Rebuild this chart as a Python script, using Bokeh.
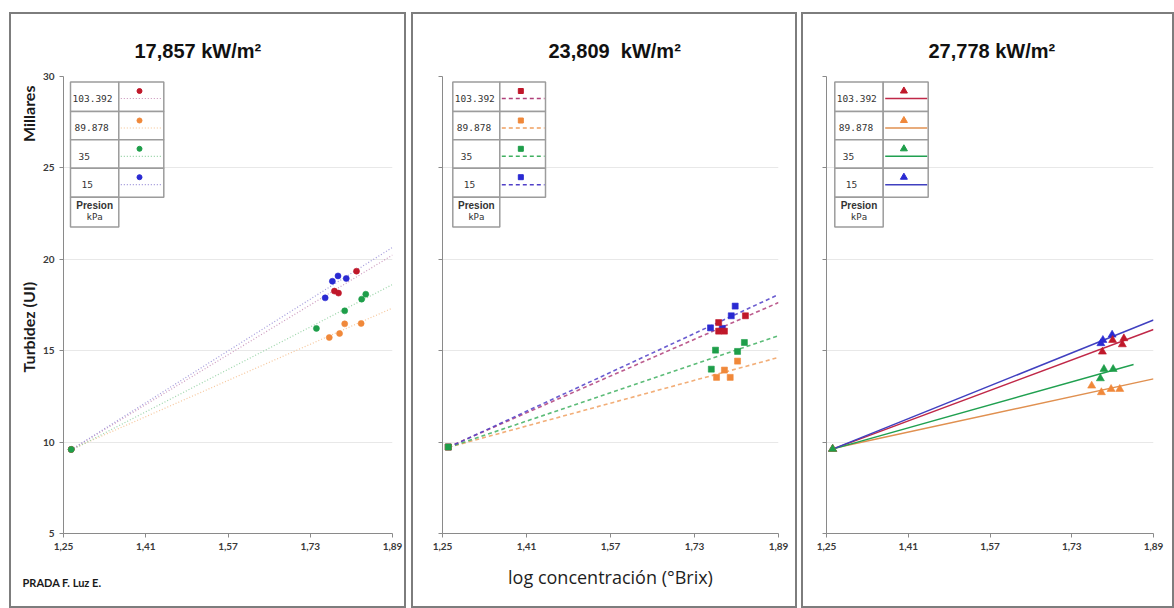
import numpy as np
from bokeh.plotting import figure
from bokeh.models import Label, FixedTicker, Spacer, CustomJSTickFormatter, Title
from bokeh.layouts import row, column
from bokeh.embed import file_html
from bokeh.resources import INLINE

# ---------------- data ----------------
presiones = ["103.392", "89.878", "35", "15"]
flujos = ["17,857 kW/m\u00b2", "23,809\u00a0 kW/m\u00b2", "27,778 kW/m\u00b2"]
x_ticks = [1.25, 1.41, 1.57, 1.73, 1.89]
y_ticks = [5, 10, 15, 20, 25, 30]
y_title = "Turbidez (UI)"
y_units_title = "Millares"
autor = "PRADA F. Luz E."
x_title = "log concentración (°Brix)"

# panel 1 : 17,857 kW/m2  (log concentracion, turbidez en millares)
x1_103 = [1.265, 1.777, 1.785, 1.820]
y1_103 = [9.6, 18.26, 18.15, 19.35]
x1_89 = [1.265, 1.767, 1.787, 1.797, 1.829]
y1_89 = [9.6, 15.72, 15.94, 16.47, 16.49]
x1_35 = [1.265, 1.742, 1.797, 1.830, 1.838]
y1_35 = [9.6, 16.22, 17.18, 17.82, 18.09]
x1_15 = [1.265, 1.759, 1.773, 1.784, 1.800]
y1_15 = [9.6, 17.89, 18.80, 19.09, 18.95]

# panel 2 : 23,809 kW/m2
x2_103 = [1.261, 1.776, 1.776, 1.787, 1.827]
y2_103 = [9.73, 16.54, 16.07, 16.07, 16.91]
x2_89 = [1.261, 1.772, 1.787, 1.798, 1.812]
y2_89 = [9.73, 13.54, 13.94, 13.54, 14.43]
x2_35 = [1.261, 1.762, 1.770, 1.812, 1.825]
y2_35 = [9.73, 13.99, 15.03, 14.96, 15.45]
x2_15 = [1.261, 1.7605, 1.783, 1.800, 1.8075]
y2_15 = [9.73, 16.25, 16.22, 16.91, 17.44]

# panel 3 : 27,778 kW/m2
x3_103 = [1.262, 1.790, 1.810, 1.829, 1.832]
y3_103 = [9.62, 14.94, 15.58, 15.34, 15.67]
x3_89 = [1.262, 1.769, 1.788, 1.807, 1.824]
y3_89 = [9.62, 13.08, 12.72, 12.90, 12.90]
x3_35 = [1.262, 1.786, 1.793, 1.811]
y3_35 = [9.62, 13.48, 13.99, 13.99]
x3_15 = [1.262, 1.787, 1.791, 1.809]
y3_15 = [9.62, 15.40, 15.58, 15.87]

# end of each trendline (order: 103.392, 89.878, 35, 15)
trend_end_1 = [1.89, 1.89, 1.89, 1.89]
trend_end_2 = [1.89, 1.89, 1.89, 1.89]
trend_end_3 = [1.89, 1.89, 1.851, 1.89]

# ---------------- styles ----------------
colors = ["#c0182a", "#f0883a", "#1e9e4a", "#2a2ad2"]
line_colors = [
    ["#c890b8", "#f5c090", "#90d0a0", "#9a90d8"],
    ["#b0407a", "#f0a060", "#40b060", "#5040c8"],
    ["#c02848", "#e09050", "#20a050", "#4040c0"],
]
markers = ["circle", "square", "triangle"]
msizes = [6, 6, 8]
dashes = ["1 2", "4 3", "solid"]
lwidths = [1.2, 1.6, 1.5]
lalpha = [0.9, 0.85, 1.0]

panels = [
    ([(x1_103, y1_103), (x1_89, y1_89), (x1_35, y1_35), (x1_15, y1_15)], trend_end_1),
    ([(x2_103, y2_103), (x2_89, y2_89), (x2_35, y2_35), (x2_15, y2_15)], trend_end_2),
    ([(x3_103, y3_103), (x3_89, y3_89), (x3_35, y3_35), (x3_15, y3_15)], trend_end_3),
]

# layout geometry (page pixels)
TOP = 12
FR_TOP, FR_BOT = 76, 533
frames_x = [(63, 392), (442, 778), (826, 1153)]
fig_left = [9, 411, 801]
fig_w = [397, 386, 373]
FIG_H = 596
BW = 2  # css border width (drawn inside the host, canvas shifted by BW)
title_left = [134, 548, 928]
leg_cols = [(70, 118.3, 163.3), (452.3, 499.3, 545), (834.3, 882.7, 927.7)]
rows_y = [81.5, 111, 139.3, 167.7, 196.7, 226.5]
lab_dx = [2, 4, 8, 11]
AXC = "#8a8a8a"
TXT = "#3a3a3a"


def yd(py):
    return 5 + (FR_BOT - py) * 25.0 / (FR_BOT - FR_TOP)


def xd(i, px):
    L, R = frames_x[i]
    return 1.25 + (px - L) * 0.64 / (R - L)


figs = []
for i, (series, ends) in enumerate(panels):
    L, R = frames_x[i]
    left = L - fig_left[i] - BW
    right = fig_left[i] + fig_w[i] + BW - R
    p = figure(width=fig_w[i], height=FIG_H,
               x_range=(1.25, 1.89), y_range=(5, 30),
               output_backend="svg", toolbar_location=None,
               min_border_left=left, min_border_right=right,
               min_border_top=FR_TOP - TOP - BW, min_border_bottom=TOP + FIG_H + BW - FR_BOT,
               background_fill_color="white", border_fill_color="white",
               styles={"border": "%dpx solid #7d7d7d" % BW})
    p.outline_line_color = None
    p.xgrid.visible = False
    p.ygrid.ticker = FixedTicker(ticks=y_ticks)
    p.ygrid.grid_line_color = "#e8e8e8"

    p.xaxis.ticker = FixedTicker(ticks=x_ticks)
    p.xaxis.formatter = CustomJSTickFormatter(code="return tick.toFixed(2).replace('.', ',');")
    p.yaxis.ticker = FixedTicker(ticks=y_ticks)
    if i > 0:
        p.yaxis.formatter = CustomJSTickFormatter(code="return '';")
    for ax in (p.xaxis[0], p.yaxis[0]):
        ax.axis_line_color = AXC
        ax.major_tick_line_color = AXC
        ax.minor_tick_line_color = None
        ax.major_tick_out = 4
        ax.major_tick_in = 0
        ax.major_label_text_font = "Lato"
        ax.major_label_text_font_style = "bold"
        ax.major_label_text_font_size = "10px"
        ax.major_label_text_color = TXT
        ax.major_label_standoff = 5
    if i == 1:
        p.xaxis.axis_label = x_title
        p.xaxis.axis_label_text_font = "Open Sans"
        p.xaxis.axis_label_text_font_style = "normal"
        p.xaxis.axis_label_text_font_size = "18px"
        p.xaxis.axis_label_text_color = "#1e1e1e"
        p.xaxis.axis_label_standoff = 12

    # panel title
    p.title = Title(text=flujos[i], align="left", offset=title_left[i] - L,
                    text_font="Liberation Sans", text_font_style="bold",
                    text_font_size="20px", text_color="#111111", standoff=29)

    # trendlines (least squares on each series)
    for k, (xs, ys) in enumerate(series):
        m, b = np.polyfit(xs, ys, 1)
        xl = [xs[0], ends[k]]
        p.line(xl, [m * v + b for v in xl], line_color=line_colors[i][k],
               line_width=lwidths[i], line_dash=dashes[i], line_alpha=lalpha[i])
    # points (15 first, 35 last)
    for k in [3, 0, 1, 2]:
        xs, ys = series[k]
        p.scatter(xs, ys, marker=markers[i], size=msizes[i], fill_color=colors[k],
                  line_color=colors[k], line_alpha=0.6)

    # legend table
    cl, cm, cr = leg_cols[i]
    for r in range(5):
        p.quad(left=xd(i, cl), right=xd(i, cm), top=yd(rows_y[r]), bottom=yd(rows_y[r + 1]),
               fill_color="white", line_color="#9c9c9c", line_width=1.5)
    for r in range(4):
        p.quad(left=xd(i, cm), right=xd(i, cr), top=yd(rows_y[r]), bottom=yd(rows_y[r + 1]),
               fill_color="white", line_color="#9c9c9c", line_width=1.5)
        p.line([xd(i, cm + 2), xd(i, cr - 1)], [yd(rows_y[r] + 16.5)] * 2,
               line_color=line_colors[i][r], line_width=lwidths[i], line_dash=dashes[i])
        p.scatter([xd(i, cm + (cr - cm) * 0.46)], [yd(rows_y[r] + 9)], marker=markers[i],
                  size=msizes[i] - 1, fill_color=colors[r], line_color=colors[r])
        p.add_layout(Label(x=xd(i, cl + lab_dx[r]), y=yd((rows_y[r] + rows_y[r + 1]) / 2 + 2),
                           text=presiones[r], text_font="DejaVu Sans Mono", text_font_size="9.5px",
                           text_color="#333333", text_baseline="middle", text_align="left"))
    p.add_layout(Label(x=xd(i, (cl + cm) / 2), y=yd(204.5), text="Presion", text_font="Liberation Sans",
                       text_font_style="bold", text_font_size="10px", text_color="#333333",
                       text_align="center", text_baseline="middle"))
    p.add_layout(Label(x=xd(i, (cl + cm) / 2), y=yd(216), text="kPa", text_font="DejaVu Sans Mono",
                       text_font_size="9px", text_color="#333333",
                       text_align="center", text_baseline="middle"))

    if i == 0:
        # y title (bottom) and display-units caption (top) share one rotated line
        p.add_layout(Title(text=y_title + "\u00a0" * 36 + y_units_title, align="left",
                           offset=FR_BOT - 372, text_font="Lato", text_font_style="bold",
                           text_font_size="16px", text_color="#1a1a1a", standoff=4), "left")
        p.add_layout(Title(text=autor, align="left", offset=22 - L,
                           text_font="Lato", text_font_style="bold", text_font_size="11px",
                           text_color="#1a1a1a", standoff=42), "below")
    figs.append(p)

layout = column(Spacer(height=TOP),
                row(Spacer(width=fig_left[0]), figs[0],
                    Spacer(width=fig_left[1] - fig_left[0] - fig_w[0]), figs[1],
                    Spacer(width=fig_left[2] - fig_left[1] - fig_w[1]), figs[2]))

open("out.html", "w").write(file_html(layout, INLINE))
